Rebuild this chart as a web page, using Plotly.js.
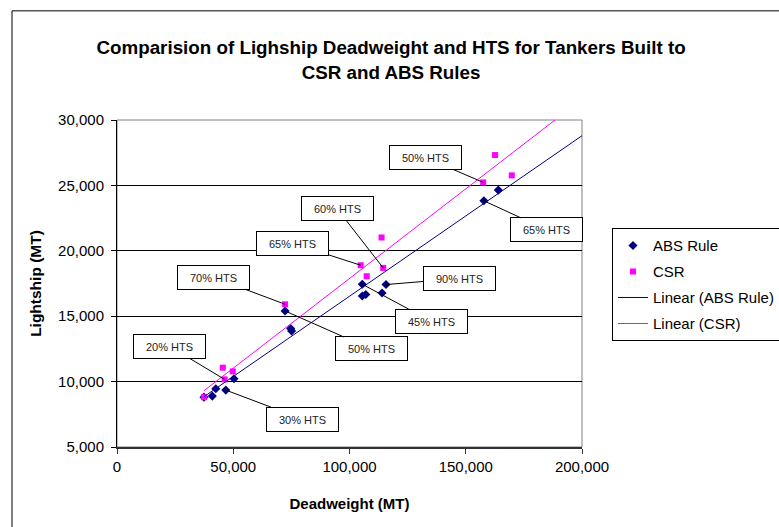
<!DOCTYPE html>
<html>
<head>
<meta charset="utf-8">
<script src="https://cdn.plot.ly/plotly-3.0.1.min.js"></script>
<style>html,body{margin:0;padding:0;background:#fff;}#chart{width:779px;height:527px;}</style>
</head>
<body>
<div id="chart"></div>
<script>
// ABS Rule data (Deadweight MT, Lightship MT)
var absX = [37400, 41000, 42500, 46800, 50300, 72300, 74700, 75100, 105500, 107000, 105500, 114000, 115700, 157800, 164000];
var absY = [8813, 8890, 9456, 9349, 10222, 15398, 14051, 13867, 17443, 16654, 16547, 16777, 17420, 23821, 24640];
// CSR data
var csrX = [37400, 45500, 46300, 49800, 72300, 104800, 107400, 114500, 113800, 157500, 162600, 169800];
var csrY = [8813, 11064, 10168, 10781, 15911, 18897, 18055, 18691, 21018, 25230, 27320, 25766];
// Linear trendlines (endpoints)
var absTrendX = [37400, 200000];
var absTrendY = [8843, 28800];
var csrTrendX = [37400, 200000];
var csrTrendY = [9300, 31590];
// Callout labels: text, series, point index
var calloutText = ["50% HTS", "65% HTS", "60% HTS", "65% HTS", "70% HTS", "50% HTS", "45% HTS", "90% HTS", "20% HTS", "30% HTS"];
var calloutSeries = ["csr", "abs", "csr", "csr", "csr", "abs", "abs", "abs", "csr", "abs"];
var calloutIndex = [9, 13, 7, 5, 4, 5, 8, 12, 2, 3];

// layout-only offsets of callout boxes (pixels from the point)
var calloutOffsets = [[-58, -25], [63, 29], [-46, -59], [-68, -22], [-72, -27], [86, 38], [69, 37], [73, -6], [-55, -33], [77, 29]];

var FONT = "Arial, 'Liberation Sans', sans-serif";

var traces = [
  {x: absX, y: absY, type: "scatter", mode: "markers", name: "ABS Rule", legendgroup: "a",
   marker: {symbol: "diamond", size: 7, color: "#000080"}},
  {x: csrX, y: csrY, type: "scatter", mode: "markers", name: "CSR", legendgroup: "b",
   marker: {symbol: "square", size: 6, color: "#FF00FF"}},
  {x: absTrendX, y: absTrendY, type: "scatter", mode: "lines", name: "Linear (ABS Rule)", legendgroup: "c",
   line: {color: "#000080", width: 1}},
  {x: csrTrendX, y: csrTrendY, type: "scatter", mode: "lines", name: "Linear (CSR)", legendgroup: "d",
   line: {color: "#FF00FF", width: 1}}
];

var annotations = calloutText.map(function (t, i) {
  var sx = calloutSeries[i] === "abs" ? absX : csrX;
  var sy = calloutSeries[i] === "abs" ? absY : csrY;
  var k = calloutIndex[i];
  return {
    x: sx[k], y: sy[k], xref: "x", yref: "y",
    text: t, showarrow: true, arrowhead: 0, arrowwidth: 1, arrowcolor: "#000",
    ax: calloutOffsets[i][0], ay: calloutOffsets[i][1],
    axref: "pixel", ayref: "pixel",
    bgcolor: "#fff", bordercolor: "#000", borderwidth: 1, borderpad: 1,
    width: 69, height: 21,
    font: {family: FONT, size: 11, color: "#222"}
  };
});

var layout = {
  width: 779, height: 527,
  margin: {l: 117, r: 197, t: 120, b: 80, pad: 0, autoexpand: false},
  paper_bgcolor: "#fff", plot_bgcolor: "#fff",
  font: {family: FONT, size: 15, color: "#000"},
  title: {
    text: "<b>Comparision of Lighship Deadweight and HTS for Tankers Built to<br>CSR and ABS Rules</b>",
    font: {family: FONT, size: 18.8, color: "#000"},
    xref: "container", yref: "container", x: 0.502, y: 0.897, xanchor: "center", yanchor: "middle"
  },
  xaxis: {
    range: [0, 200000], dtick: 50000, tick0: 0, tickformat: ",d",
    showgrid: false, zeroline: false, showline: true, linecolor: "#333", linewidth: 2,
    ticks: "outside", ticklen: 5, tickcolor: "#333", ticklabelstandoff: 0,
    tickfont: {family: FONT, size: 15, color: "#000"},
    title: {text: "<b>Deadweight (MT)</b>", font: {family: FONT, size: 15, color: "#000"}, standoff: 24}
  },
  yaxis: {
    range: [5000, 30000], dtick: 5000, tick0: 5000, tickformat: ",d",
    showgrid: true, gridcolor: "#000", gridwidth: 1, zeroline: false,
    showline: true, linecolor: "#000", linewidth: 1,
    ticks: "outside", ticklen: 5, tickcolor: "#000", ticklabelstandoff: 4,
    tickfont: {family: FONT, size: 15, color: "#000"},
    title: {text: "<b>Lightship (MT)</b>", font: {family: FONT, size: 15.5, color: "#000"}, standoff: 12}
  },
  showlegend: true,
  legend: {
    x: 1.0645, y: 0.669, xanchor: "left", yanchor: "top",
    bordercolor: "#000", borderwidth: 1, bgcolor: "#fff",
    font: {family: FONT, size: 15, color: "#000"},
    traceorder: "grouped", tracegroupgap: 3.5, itemwidth: 30
  },
  shapes: [
    {type: "rect", xref: "paper", yref: "paper", x0: 0, x1: 1, y0: 0, y1: 1,
     line: {color: "#808080", width: 1}, fillcolor: "rgba(0,0,0,0)", layer: "below"},
    {type: "rect", xref: "paper", yref: "paper", x0: -0.2258, x1: 2, y0: -1, y1: 1.3338,
     line: {color: "#000", width: 1}, fillcolor: "rgba(0,0,0,0)", layer: "below"}
  ],
  annotations: annotations
};

Plotly.newPlot("chart", traces, layout, {staticPlot: true, displayModeBar: false});
</script>
</body>
</html>
